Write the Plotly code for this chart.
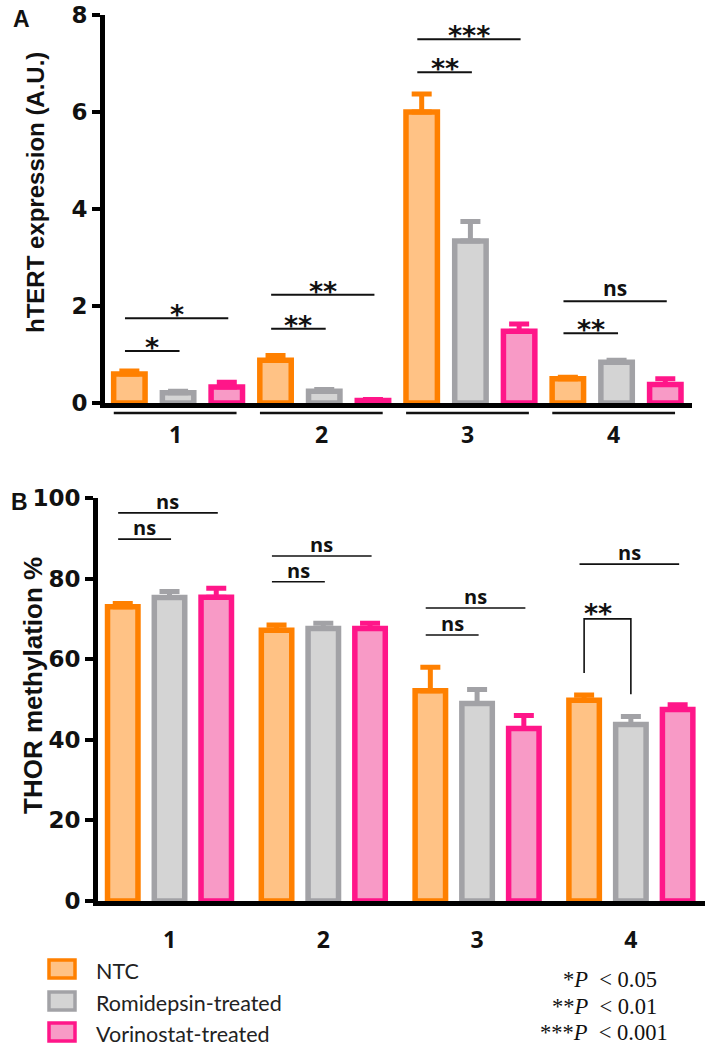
import plotly.graph_objects as go

# ---------------- data ----------------
groups = [1, 2, 3, 4]
group_labels = ["1", "2", "3", "4"]
series_names = ["NTC", "Romidepsin-treated", "Vorinostat-treated"]

htert_ntc = [0.60, 0.88, 6.00, 0.50]
htert_ntc_err = [0.06, 0.10, 0.37, 0.03]
htert_romi = [0.21, 0.24, 3.34, 0.84]
htert_romi_err = [0.03, 0.04, 0.40, 0.04]
htert_vori = [0.33, 0.05, 1.48, 0.38]
htert_vori_err = [0.10, 0.02, 0.15, 0.12]

thor_ntc = [73.0, 67.2, 52.2, 49.8]
thor_ntc_err = [0.8, 1.3, 5.8, 1.3]
thor_romi = [75.3, 67.6, 49.0, 43.8]
thor_romi_err = [1.5, 1.3, 3.5, 2.0]
thor_vori = [75.4, 67.6, 42.8, 47.5]
thor_vori_err = [2.2, 1.3, 3.2, 1.2]

htert_ticks = [0, 2, 4, 6, 8]
thor_ticks = [0, 20, 40, 60, 80, 100]

# significance: (group, from series, to series, level, label)
htert_sig = [(1, 0, 1, 1.07, "*"), (1, 0, 2, 1.75, "*"),
             (2, 0, 1, 1.53, "**"), (2, 0, 2, 2.23, "**"),
             (3, 0, 1, 6.82, "**"), (3, 0, 2, 7.50, "***"),
             (4, 0, 1, 1.44, "**"), (4, 0, 2, 2.10, "ns")]
thor_sig = [(1, 0, 1, 89.8, "ns"), (1, 0, 2, 96.3, "ns"),
            (2, 0, 1, 79.2, "ns"), (2, 0, 2, 85.6, "ns"),
            (3, 0, 1, 66.0, "ns"), (3, 0, 2, 72.7, "ns"),
            (4, 0, 2, 83.6, "ns")]
thor_bracket = (4, 0, 1, 70.0, "**")

p_legend = [("*", "0.05"), ("**", "0.01"), ("***", "0.001")]

# ---------------- style ----------------
W, H = 709, 1046
line_colors = ["#FF8000", "#A2A2A6", "#FF1689"]
fill_colors = ["#FFC285", "#D4D4D4", "#F89AC6"]

def fx(px):
    return px / W

def fy(py):
    return 1 - py / H

SLOT_A, WIDTH_A = 1 / 3, 0.215
SLOT_B, WIDTH_B = 0.304, 0.198

fig = go.Figure()

htert = [(htert_ntc, htert_ntc_err), (htert_romi, htert_romi_err), (htert_vori, htert_vori_err)]
thor = [(thor_ntc, thor_ntc_err), (thor_romi, thor_romi_err), (thor_vori, thor_vori_err)]

for data, slot, width, xa, ya in [(htert, SLOT_A, WIDTH_A, "x", "y"),
                                  (thor, SLOT_B, WIDTH_B, "x2", "y2")]:
    for i, (vals, errs) in enumerate(data):
        fig.add_trace(go.Bar(
            x=groups, y=vals, name=series_names[i],
            width=width, offset=(i - 1) * slot - width / 2,
            marker=dict(color=fill_colors[i], line=dict(color=line_colors[i], width=5.5)),
            error_y=dict(type="data", array=errs, arrayminus=[0] * len(errs), symmetric=False,
                         color=line_colors[i], thickness=5, width=10),
            xaxis=xa, yaxis=ya, showlegend=False,
        ))

shapes = []
annotations = []

ast_font = dict(family="DejaVu Sans", size=27, color="#111", weight="bold")
ns_font_a = dict(family="Open Sans", size=21, color="#111", weight="bold")
ns_font_b = dict(family="Open Sans", size=20, color="#111", weight="bold")

def sig_items(sigs, slot, xref, yref, lw, ns_font, ast_shift, ns_shift):
    for g, a, b, lvl, lab in sigs:
        x0 = g + (a - 1) * slot - 0.03
        x1 = g + (b - 1) * slot + 0.01
        shapes.append(dict(type="line", xref=xref, yref=yref, x0=x0, x1=x1, y0=lvl, y1=lvl,
                           line=dict(color="#111", width=lw)))
        is_ns = lab == "ns"
        annotations.append(dict(x=(x0 + x1) / 2, y=lvl, xref=xref, yref=yref, text=lab,
                                showarrow=False, xanchor="center", yanchor="bottom",
                                yshift=ns_shift if is_ns else ast_shift,
                                font=ns_font if is_ns else ast_font))

sig_items(htert_sig, SLOT_A, "x", "y", 2, ns_font_a, -14, -3)
sig_items(thor_sig, SLOT_B, "x2", "y2", 1.6, ns_font_b, -14, -4)

# bracket in panel B
g, a, b, lvl, lab = thor_bracket
xa0 = g + (a - 1) * SLOT_B
xb0 = g + (b - 1) * SLOT_B
leg_a = thor[a][0][g - 1] + thor[a][1][g - 1] + 5.5
leg_b = thor[b][0][g - 1] + thor[b][1][g - 1] + 5.5
shapes.append(dict(type="path", xref="x2", yref="y2",
                   path=f"M {xa0},{leg_a} L {xa0},{lvl} L {xb0},{lvl} L {xb0},{leg_b}",
                   line=dict(color="#111", width=1.6)))
annotations.append(dict(x=(xa0 + xb0) / 2 - 0.06, y=lvl, xref="x2", yref="y2", text=lab,
                        showarrow=False, xanchor="center", yanchor="bottom", yshift=-12,
                        font=ast_font))

# category underlines and labels for panel A
for g, lab in zip(groups, group_labels):
    shapes.append(dict(type="line", xref="x", yref="paper", x0=g - 0.44, x1=g + 0.40,
                       y0=fy(413), y1=fy(413), line=dict(color="#111", width=2.5)))
    annotations.append(dict(x=g - 0.02, y=fy(434), xref="x", yref="paper", text=lab,
                            showarrow=False, xanchor="center", yanchor="middle",
                            font=dict(family="Open Sans", size=23, color="#111", weight="bold")))

# axis titles & panel letters
title_font = dict(family="Liberation Sans", size=24, color="#111", weight="bold")
annotations.append(dict(x=fx(35), y=fy(193), xref="paper", yref="paper", text="hTERT expression (A.U.)",
                        textangle=-90, showarrow=False, xanchor="center", yanchor="middle",
                        font=title_font))
annotations.append(dict(x=fx(33), y=fy(686), xref="paper", yref="paper", text="THOR methylation %",
                        textangle=-90, showarrow=False, xanchor="center", yanchor="middle",
                        font=dict(title_font, size=26)))
annotations.append(dict(x=fx(21), y=fy(19), xref="paper", yref="paper", text="A", showarrow=False,
                        xanchor="center", yanchor="middle",
                        font=dict(family="Liberation Sans", size=23, color="#111", weight="bold")))
annotations.append(dict(x=fx(19), y=fy(502), xref="paper", yref="paper", text="B", showarrow=False,
                        xanchor="center", yanchor="middle",
                        font=dict(family="Liberation Sans", size=23, color="#111", weight="bold")))

# legend
for i, (name, py) in enumerate(zip(series_names, [969, 1001, 1032])):
    shapes.append(dict(type="rect", xref="paper", yref="paper", x0=fx(49), x1=fx(75),
                       y0=fy(py - 9), y1=fy(py + 9), fillcolor=fill_colors[i],
                       line=dict(color=line_colors[i], width=3.5)))
    annotations.append(dict(x=fx(94), y=fy(py + 2), xref="paper", yref="paper", text=name,
                            showarrow=False, xanchor="left", yanchor="middle",
                            font=dict(family="Lato", size=21.5, color="#222")))

for (stars, pv), px, py in zip(p_legend, [561, 550, 538], [979, 1006, 1032]):
    annotations.append(dict(x=fx(px), y=fy(py), xref="paper", yref="paper",
                            text=f"{stars}<i>P</i>&nbsp;&nbsp;&lt; {pv}", showarrow=False,
                            xanchor="left", yanchor="middle",
                            font=dict(family="Liberation Serif", size=22.5, color="#111")))

axis_common = dict(showgrid=False, zeroline=False, showline=True, linecolor="#000", linewidth=5,
                   automargin=False, ticklabeloverflow="allow")
ytick_font = dict(family="DejaVu Sans", size=23, color="#111", weight="bold")

fig.update_layout(
    width=W, height=H, margin=dict(l=0, r=0, t=0, b=0, autoexpand=False),
    paper_bgcolor="white", plot_bgcolor="white",
    barmode="overlay",
    xaxis=dict(domain=[fx(105), fx(692)], range=[0.5, 4.516], anchor="y",
               showticklabels=False, ticks="", **axis_common),
    yaxis=dict(domain=[fy(403), fy(15)], range=[0, 8], anchor="x", tickvals=htert_ticks,
               ticks="outside", ticklen=8, tickwidth=4, tickcolor="#000", tickfont=ytick_font,
               **axis_common),
    xaxis2=dict(domain=[fx(98), fx(705)], range=[0.535, 4.482], anchor="y2",
                tickvals=groups, ticktext=group_labels, ticks="", ticklabelstandoff=14,
                tickfont=dict(family="Open Sans", size=23, color="#111", weight="bold"),
                **axis_common),
    yaxis2=dict(domain=[fy(901), fy(498)], range=[0, 100], anchor="x2", tickvals=thor_ticks,
                ticks="outside", ticklen=8, tickwidth=4, tickcolor="#000", tickfont=ytick_font,
                **axis_common),
    shapes=shapes, annotations=annotations,
)

fig.write_html("out.html", config={"displayModeBar": False},
               post_script="document.body.style.margin='0';")
